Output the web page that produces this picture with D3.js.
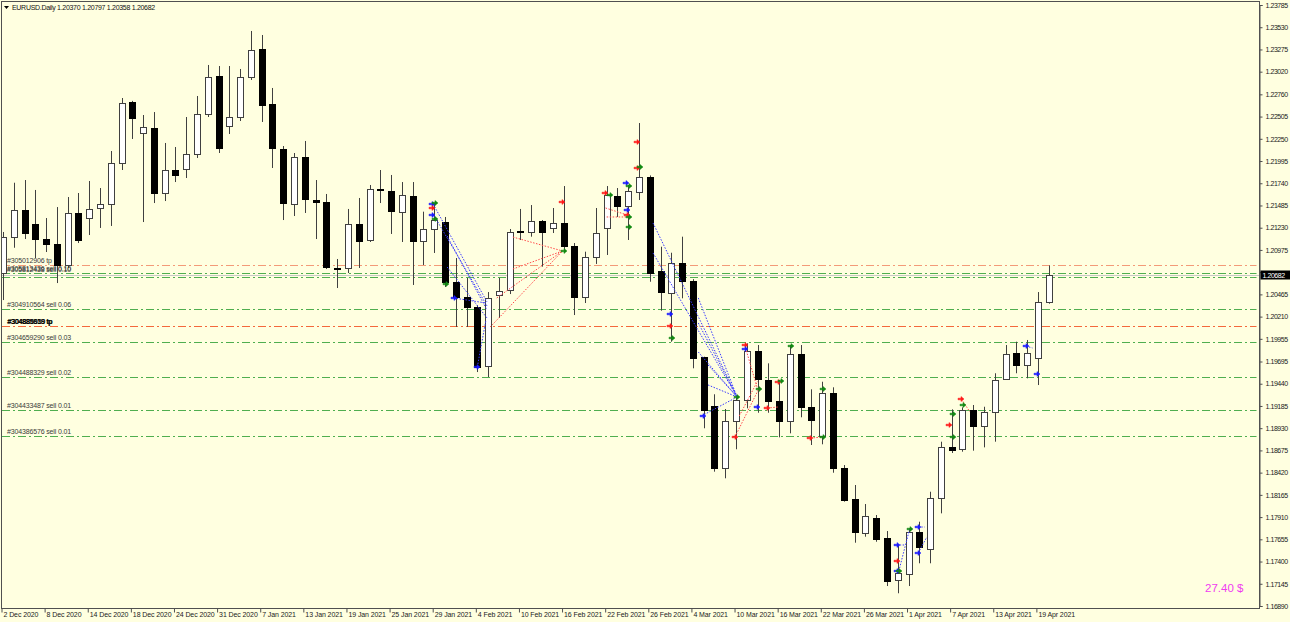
<!DOCTYPE html>
<html><head><meta charset="utf-8">
<script src="https://cdn.jsdelivr.net/npm/d3@7"></script>
<style>html,body{margin:0;padding:0;background:#ffffe0;overflow:hidden}svg{display:block;font-family:"Liberation Sans",Arial,sans-serif}</style>
</head><body><svg id="c" width="1290" height="622"></svg>
<script>
// ---- categories (trading days) ----
const decDays=[2,3,4,7,8,9,10,11,14,15,16,17,18,21,22,23,24,28,29,30,31];
const janDays=[4,5,6,7,8,11,12,13,14,15,18,19,20,21,22,25,26,27,28,29];
const febDays=[1,2,3,4,5,8,9,10,11,12,15,16,17,18,19,22,23,24,25,26];
const marDays=[1,2,3,4,5,8,9,10,11,12,15,16,17,18,19,22,23,24,25,26,29,30,31];
const aprDays=[1,2,5,6,7,8,9,12,13,14,15,16,19,20];
const monthNames=["Dec","Jan","Feb","Mar","Apr"];
const monthYears=[2020,2021,2021,2021,2021];

// ---- series values ----
const opens=[1.20710,1.21123,1.21433,1.21272,1.21100,1.21043,1.20802,1.21399,1.21341,1.21456,
1.21502,1.21972,1.22672,1.22317,1.22374,1.21628,1.21892,1.21903,1.22076,1.22534,
1.22970,1.22397,1.22500,1.22959,1.23280,1.22649,1.22133,1.21502,1.22041,1.21548,
1.21525,1.20768,1.20768,1.21272,1.21089,1.21674,1.21651,1.21410,1.21594,1.21077,
1.21211,1.21295,1.20607,1.20435,1.20320,1.19643,1.20458,1.20515,1.21190,1.21184,
1.21310,1.21227,1.21284,1.21020,1.20438,1.20897,1.21230,1.21594,1.21479,1.21643,
1.21815,1.20733,1.20489,1.20828,1.20622,1.19743,1.19184,1.18477,1.19016,1.19253,
1.19819,1.19483,1.19242,1.19016,1.19781,1.19169,1.18840,1.19336,1.18470,1.18113,
1.17731,1.17896,1.17666,1.17180,1.17264,1.17742,1.17540,1.18125,1.18710,1.18688,
1.19138,1.18955,1.19119,1.19491,1.19789,1.19655,1.19732,1.20370];
const highs=[1.21181,1.21746,1.21777,1.21663,1.21341,1.21467,1.21582,1.21628,1.21766,1.21685,
1.22110,1.22718,1.22685,1.22523,1.22557,1.22202,1.22156,1.22500,1.22741,1.23097,
1.23085,1.23085,1.23051,1.23487,1.23441,1.22833,1.22167,1.22087,1.22225,1.21777,
1.21617,1.20871,1.21445,1.21571,1.21720,1.21892,1.21835,1.21754,1.21754,1.21414,
1.21513,1.21353,1.20882,1.20653,1.20343,1.20492,1.20653,1.21215,1.21445,1.21490,
1.21318,1.21456,1.21708,1.21054,1.20955,1.21456,1.21708,1.21685,1.21720,1.22431,
1.21830,1.21012,1.20943,1.21127,1.20640,1.19750,1.19319,1.19150,1.19291,1.19904,
1.19884,1.19674,1.19483,1.19884,1.19884,1.19376,1.19463,1.19399,1.18507,1.18278,
1.18060,1.17934,1.17750,1.17590,1.17781,1.17857,1.18201,1.18775,1.19146,1.19169,
1.19196,1.19176,1.19560,1.19884,1.19922,1.19942,1.20492,1.20797];
const lows=[1.20400,1.21000,1.21100,1.20882,1.20951,1.20595,1.20768,1.21054,1.21146,1.21227,
1.21250,1.21892,1.22248,1.21295,1.21513,1.21536,1.21754,1.21800,1.22030,1.22500,
1.22087,1.22305,1.22454,1.22925,1.22443,1.21915,1.21318,1.21364,1.21399,1.21100,
1.20756,1.20538,1.20710,1.20768,1.21066,1.21513,1.21158,1.21066,1.20573,1.20802,
1.20940,1.20550,1.20091,1.20091,1.19574,1.19517,1.20194,1.20469,1.21089,1.21127,
1.20783,1.21169,1.20955,1.20228,1.20366,1.20814,1.20917,1.21353,1.21089,1.21548,
1.20610,1.20278,1.19922,1.20420,1.19617,1.18929,1.18431,1.18355,1.18688,1.19158,
1.19107,1.19107,1.18825,1.18871,1.19055,1.18737,1.18745,1.18419,1.18087,1.17616,
1.17685,1.17627,1.17119,1.17036,1.17119,1.17380,1.17380,1.17953,1.18645,1.18660,
1.18672,1.18710,1.18775,1.19483,1.19560,1.19502,1.19425,1.20358];
const closes=[1.21123,1.21433,1.21173,1.21100,1.21043,1.20802,1.21399,1.21089,1.21445,1.21502,
1.21972,1.22661,1.22489,1.22385,1.21628,1.21892,1.21835,1.22076,1.22534,1.22959,
1.22144,1.22500,1.22959,1.23269,1.22638,1.22144,1.21513,1.22041,1.21559,1.21525,
1.20779,1.20762,1.21272,1.21077,1.21674,1.21663,1.21422,1.21605,1.21077,1.21215,
1.21318,1.20607,1.20435,1.20320,1.19632,1.20423,1.20507,1.21184,1.21180,1.21310,
1.21184,1.21284,1.21020,1.20438,1.20897,1.21169,1.21605,1.21479,1.21651,1.21815,
1.20714,1.20489,1.20828,1.20622,1.19743,1.19130,1.18477,1.19016,1.19253,1.19819,
1.19494,1.19242,1.19016,1.19781,1.19169,1.19024,1.19330,1.18470,1.18106,1.17731,
1.17922,1.17658,1.17174,1.17264,1.17742,1.17570,1.18125,1.18710,1.18671,1.19138,
1.18955,1.19112,1.19483,1.19781,1.19655,1.19796,1.20378,1.20682];

// ---- tick labels ----
const priceTicks=[1.23785,1.23530,1.23275,1.23020,1.22760,1.22505,1.22250,1.21995,1.21740,1.21485,
1.21230,1.20975,1.20720,1.20465,1.20210,1.19955,1.19695,1.19440,1.19185,1.18930,1.18675,
1.18420,1.18165,1.17910,1.17655,1.17400,1.17145,1.16890];
const dateTickEvery=4;

// ---- order lines ----
const orderLevels=[1.20802,1.20705,1.20664,1.20303,1.20102,1.19919,1.19517,1.19138,1.18840];
const orderKinds=["tp","sell","sell","sell","tp","sell","sell","sell","sell"];
const orderTexts=[["#305012906 tp"],["#305813436 sell 0.10","#305812438 sell 0.10"],[],["#304910564 sell 0.06"],
["#304885818 tp","#304889639 tp","#304886959 tp"],["#304659290 sell 0.03"],["#304488329 sell 0.02"],["#304433487 sell 0.01"],["#304386576 sell 0.01"]];

// ---- trade history (bar index, price) ----
const tradeFromIdx=[39.9,39.9,41.2,41.2,41.8,44.0, 47.3,47.3,45.8,45.2, 55.9,56.0,
60.3,60.3,64.5,64.5,64.5,65.4,65.4,64.8, 67.9,68.3,68.8,70.9,74.9, 82.9,83.1,84.9,84.9,88.9,94.9];
const tradeFromPrice=[1.21502,1.21387,1.21135,1.20779,1.20424,1.19632, 1.21123,1.20756,1.20424,1.20091, 1.21456,1.21353,
1.21284,1.20940,1.20424,1.20137,1.19804,1.19655,1.19426,1.19070, 1.18829,1.19070,1.19884,1.19161,1.18817, 1.17590,1.17291,1.17498,1.17796,1.19265,1.19873];
const tradeToIdx=[44.9,44.9,44.9,44.9,44.8,44.8, 51.9,51.9,51.9,51.9, 57.9,58.0,
68.1,68.1,68.1,68.1,68.1,68.1,68.1,68.1, 70.1,70.0,70.0,71.9,76.1, 83.6,84.1,85.7,85.5,89.7,95.5];
const tradeToPrice=[1.20378,1.20332,1.20286,1.20194,1.20366,1.20171, 1.20963,1.20963,1.20963,1.20963, 1.21376,1.21353,
1.19288,1.19288,1.19288,1.19288,1.19288,1.19288,1.19288,1.19288, 1.19379,1.19471,1.19379,1.19173,1.18829, 1.17590,1.17773,1.17682,1.17796,1.19116,1.19850];
const tradeSide=["b","b","b","b","b","b","r","r","r","r","r","r",
"b","b","b","b","b","b","b","b","r","r","r","r","r","b","b","b","b","r","b"];

// ---- order arrows ----
const markIdx=[39.8,39.8,39.8,40.1,40.1,41.1,41.8,44.0,51.9,52.0,55.8,56.3,
58.8,58.8,59.1,57.8,58.1,57.9,57.9,58.1,58.1,61.9,61.9,62.1,
68.1,67.9,64.9,68.8,68.8,70.1,69.9,70.9,71.9,72.2,73.1,74.9,76.1,76.1,
82.9,82.9,82.9,83.1,84.1,84.9,84.9,88.1,87.8,88.1,88.9,89.1,94.9,95.9];
const markPrice=[1.21502,1.21456,1.21376,1.21513,1.21330,1.20584,1.20424,1.19632,1.21525,1.20963,1.21628,1.21605,
1.22213,1.21915,1.21926,1.21743,1.21708,1.21433,1.21376,1.21353,1.21238,1.20240,1.20102,1.19965,
1.19288,1.18829,1.19070,1.19884,1.19838,1.19379,1.19173,1.19161,1.19460,1.19471,1.19873,1.18817,1.18829,1.19379,
1.17590,1.17406,1.17291,1.17291,1.17773,1.17796,1.17498,1.19093,1.18966,1.18829,1.19265,1.19196,1.19873,1.19552];
const markColor=["b","r","b","g","g","g","b","b","r","g","r","g",
"r","r","g","b","g","b","r","g","g","b","r","g",
"g","r","b","r","b","g","b","r","r","g","g","r","g","g",
"b","r","b","g","g","b","b","g","r","g","r","g","b","b"];

const header="EURUSD.Daily  1.20370 1.20797 1.20358 1.20682";
const currentPrice=1.20682;
const profitText="27.40 $";

// ---- build ----
const dates=[];
[decDays,janDays,febDays,marDays,aprDays].forEach((arr,m)=>arr.forEach(d=>dates.push(d+" "+monthNames[m]+" "+monthYears[m])));
const N=opens.length;
const bars=d3.range(N).map(i=>({i,o:opens[i],h:highs[i],l:lows[i],c:closes[i]}));

const svg=d3.select("#c");
const W=1290,H=622, R=1259.5, B=608.5;
const x=d3.scaleLinear().domain([0,N-1]).range([3,3+(N-1)*10.78]);
const y=d3.scaleLinear().domain([1.16890,1.23785]).range([606,5]);
const col={b:"#1a1aff",r:"#ff1a1a",g:"#138a13"};
const FONT="Liberation Sans, Arial, sans-serif";

svg.append("rect").attr("width",W).attr("height",H).attr("fill","#ffffe0");

svg.append("defs").append("clipPath").attr("id","plot").append("rect")
  .attr("x",2).attr("y",2).attr("width",R-2).attr("height",B-2);
const plot=svg.append("g").attr("clip-path","url(#plot)");

// order lines
plot.selectAll("line.ord").data(orderLevels).join("line").attr("class","ord")
  .attr("x1",2).attr("x2",R-3).attr("y1",d=>Math.round(y(d))+0.5).attr("y2",d=>Math.round(y(d))+0.5)
  .attr("stroke",(d,i)=>orderKinds[i]==="tp"?(i===0?"#f39a78":"#f4683c"):"#4fae4f")
  .attr("stroke-width",1).attr("stroke-dasharray","8,3,2,3");
// bid line
plot.append("line").attr("x1",2).attr("x2",R).attr("y1",Math.round(y(currentPrice))+0.5).attr("y2",Math.round(y(currentPrice))+0.5)
  .attr("stroke","#c8c8c8").attr("stroke-width",1);

// candles
const cg=plot.selectAll("g.bar").data(bars).join("g").attr("class","bar");
cg.append("line").attr("x1",d=>Math.round(x(d.i))+0.5).attr("x2",d=>Math.round(x(d.i))+0.5)
  .attr("y1",d=>y(d.h)).attr("y2",d=>y(d.l)).attr("stroke","#404040").attr("stroke-width",1);
cg.append("rect").attr("x",d=>Math.round(x(d.i))-2.5).attr("width",6)
  .attr("y",d=>Math.round(y(Math.max(d.o,d.c)))+0.5)
  .attr("height",d=>Math.max(1,Math.round(Math.abs(y(d.o)-y(d.c)))))
  .attr("fill",d=>d.c>=d.o?"#ffffff":"#000000").attr("stroke",d=>d.c>=d.o?"#404040":"#000").attr("stroke-width",1);

// trade lines
plot.selectAll("line.tr").data(d3.range(tradeFromIdx.length)).join("line").attr("class","tr")
  .attr("x1",i=>x(tradeFromIdx[i])).attr("y1",i=>y(tradeFromPrice[i]))
  .attr("x2",i=>x(tradeToIdx[i])).attr("y2",i=>y(tradeToPrice[i]))
  .attr("stroke",i=>tradeSide[i]==="b"?"#3a3aff":"#ff4a4a").attr("stroke-width",1).attr("stroke-dasharray","1.5,1.5");

// arrows
plot.selectAll("path.mk").data(d3.range(markIdx.length)).join("path").attr("class","mk")
  .attr("transform",i=>`translate(${Math.round(x(markIdx[i]))},${Math.round(y(markPrice[i]))})`)
  .attr("d","M-3,-0.8H0V-2.5L3,0L0,2.5V0.8H-3Z")
  .attr("fill",i=>col[markColor[i]]).attr("stroke",i=>col[markColor[i]]).attr("stroke-width",0.5);

// order labels
orderLevels.forEach((lv,i)=>{
  orderTexts[i].forEach((t,k)=>{
    plot.append("text").attr("x",7+(i===4?k*0.4:0)).attr("y",Math.round(y(lv))-2+(i===1?k*0.8:0))
      .attr("font-size",7).attr("letter-spacing",-0.15).attr("fill",i===4?"#000":"#3a3a3a").text(t);
  });
});

// profit text
svg.append("text").attr("x",1205).attr("y",592).attr("font-size",11.5).attr("fill","#f03cf0").text(profitText);

// frame
svg.append("rect").attr("x",1.5).attr("y",1.5).attr("width",R-1.5).attr("height",B-1.5)
  .attr("fill","none").attr("stroke","#505050").attr("stroke-width",1);

// price axis (label under the current-price box is left blank, as it is hidden there)
const curY=y(currentPrice);
const ya=svg.append("g").attr("transform",`translate(${R},0)`)
  .call(d3.axisRight(y).tickValues(priceTicks).tickSize(3).tickPadding(3)
    .tickFormat(v=>Math.abs(y(v)-curY)<6?"":d3.format(".5f")(v)));
ya.select(".domain").attr("stroke","#505050");
ya.selectAll(".tick line").attr("stroke","#505050");
ya.selectAll("text").attr("font-size",7).attr("letter-spacing",-0.45).attr("fill","#222").attr("font-family",FONT);

// current price label
svg.append("rect").attr("x",R+1).attr("y",Math.round(curY)-4.5).attr("width",W-R-1).attr("height",9).attr("fill","#000");
svg.append("text").attr("x",R+3).attr("y",Math.round(curY)+2.5).attr("font-size",7).attr("letter-spacing",-0.45).attr("fill","#fff").text(currentPrice.toFixed(5));

// date axis
const tickIdx=d3.range(0,N,dateTickEvery);
const xa=svg.append("g").attr("transform",`translate(0,${B})`)
  .call(d3.axisBottom(x).tickValues(tickIdx).tickSize(4).tickFormat(i=>dates[i]));
xa.select(".domain").remove();
xa.selectAll(".tick line").attr("stroke","#505050").attr("transform","translate(-1.5,0)");
xa.selectAll("text").attr("text-anchor","start").attr("x",0).attr("y",4).attr("font-size",7)
  .attr("letter-spacing",-0.1).attr("fill","#222").attr("font-family",FONT);

// header
svg.append("path").attr("d","M4,6H9L6.5,9Z").attr("fill","#000");
svg.append("text").attr("x",12).attr("y",10).attr("font-size",7).attr("letter-spacing",-0.3).attr("fill","#111").text(header);
</script></body></html>
